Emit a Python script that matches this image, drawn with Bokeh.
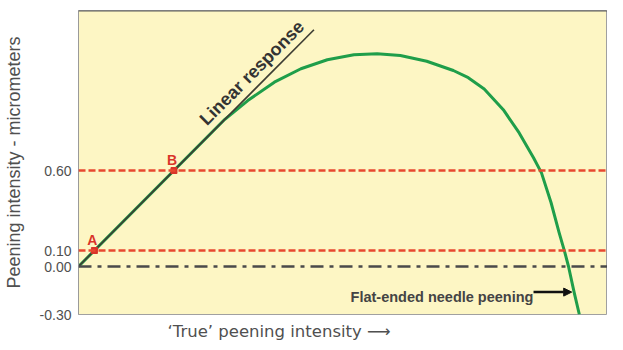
from bokeh.plotting import figure
from bokeh.models import Range1d, FixedTicker, Span, Arrow, NormalHead, Title
from bokeh.core.properties import value
from bokeh.embed import file_html
from bokeh.resources import INLINE

# ---- data ----
y_ticks = [-0.30, 0.00, 0.10, 0.60]
y_tick_labels = ["-0.30", "0.00", "0.10", "0.60"]

curve_x = [0.00, 0.606, 0.92, 1.064, 1.231, 1.398, 1.564, 1.731, 1.877, 2.023,
           2.189, 2.356, 2.45, 2.55, 2.67, 2.77, 2.86, 2.91, 2.97, 3.02,
           3.055, 3.08, 3.115, 3.148]
curve_y = [0.00, 0.606, 0.92, 1.037, 1.152, 1.236, 1.292, 1.323, 1.329, 1.319,
           1.283, 1.225, 1.18, 1.11, 0.98, 0.835, 0.68, 0.585, 0.40, 0.215,
           0.095, 0.00, -0.16, -0.30]

linear_x = [0.00, 1.48]
linear_y = [0.00, 1.48]

threshold_levels = [0.60, 0.10]
zero_level = 0.00

point_names = ["A", "B"]
point_x = [0.10, 0.60]
point_y = [0.10, 0.60]

FONT = "Liberation Sans"

p = figure(width=607, height=346, output_backend="svg", toolbar_location=None,
           x_range=Range1d(0, 3.325), y_range=Range1d(-0.30, 1.60),
           min_border_left=75, min_border_right=0, min_border_top=10,
           min_border_bottom=32)

p.background_fill_color = "#fdf6c4"
p.border_fill_color = "white"
p.outline_line_color = "#a0a0a0"
p.grid.visible = False
p.xaxis.visible = False

ya = p.yaxis[0]
ya.ticker = FixedTicker(ticks=y_ticks)
ya.major_label_overrides = dict(zip(y_ticks, y_tick_labels))
ya.major_tick_line_color = None
ya.minor_tick_line_color = None
ya.axis_line_color = "#9a9a9a"
ya.major_label_standoff = 1
ya.major_label_text_font = FONT
ya.major_label_text_font_size = "14px"
ya.major_label_text_color = "#505050"
ya.axis_label = "Peening intensity - micrometers"
ya.axis_label_text_font = FONT
ya.axis_label_text_font_size = "18px"
ya.axis_label_text_font_style = "normal"
ya.axis_label_text_color = "#505050"
ya.axis_label_standoff = 13

# top border darker
p.add_layout(Span(location=1.60, dimension="width", line_color="#5a5a5a", line_width=2))

# reference lines
for lvl in threshold_levels:
    p.add_layout(Span(location=lvl, dimension="width", line_color="#e8482f",
                      line_width=2.5, line_dash="7 3"))
p.add_layout(Span(location=zero_level, dimension="width", line_color="#4a4a4a",
                  line_width=2.5, line_dash="13 6 4 6"))

# response curve and linear line
p.line(curve_x, curve_y, line_color="#1f9e4a", line_width=3, line_join="round")
p.line(linear_x, linear_y, line_color="#3d3d33", line_width=1.6)

# points A, B
p.scatter(point_x, point_y, marker="square", size=6, color="#d9352a")
p.text(x=point_x, y=point_y, text=point_names, text_align="center",
       text_baseline="bottom", x_offset=-2, y_offset=-3,
       text_font=value(FONT), text_font_size="14px", text_font_style="bold",
       text_color="#d9352a")

# linear response label
p.text(x=[1.1345], y=[1.1655], text=["Linear response"], angle=45, angle_units="deg",
       text_align="center", text_baseline="bottom",
       text_font=value(FONT), text_font_size="18px", text_font_style="bold",
       text_color="#333333")

# flat-ended needle peening
p.text(x=[1.71], y=[-0.192], text=["Flat-ended needle peening"], text_align="left",
       text_baseline="alphabetic", text_font=value(FONT), text_font_size="14.5px",
       text_font_style="bold", text_color="#444444")
p.add_layout(Arrow(x_start=2.86, y_start=-0.16, x_end=3.10, y_end=-0.16,
                   line_color="#111111", line_width=2.5,
                   end=NormalHead(size=8, fill_color="#111111", line_color="#111111")))

# x label with arrow (below the frame)
p.add_layout(Title(text="\u2018True\u2019 peening intensity \u27f6", align="left",
                   offset=89, standoff=11, text_font="DejaVu Sans", text_font_size="16.5px",
                   text_font_style="normal", text_color="#505050"), "below")

open("out.html", "w").write(file_html(p, INLINE))
